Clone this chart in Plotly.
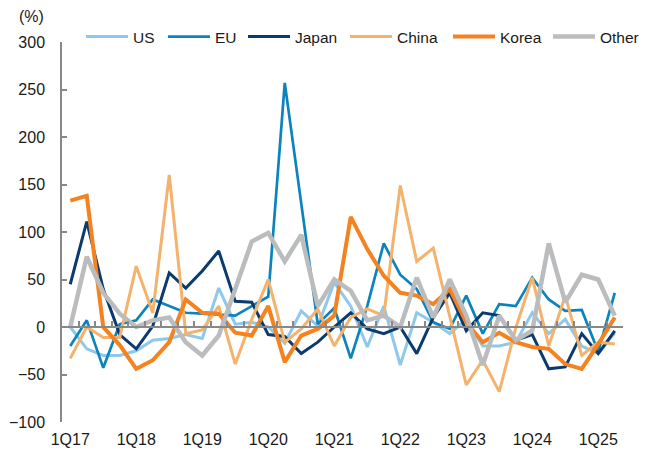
import plotly.graph_objects as go

# quarters 1Q17 .. 2Q25
quarters = [f"{q}Q{y}" for y in range(17, 26) for q in range(1, 5)][:34]
year_labels = ["1Q17", "1Q18", "1Q19", "1Q20", "1Q21", "1Q22", "1Q23", "1Q24", "1Q25"]

us = [0, -23, -30, -30, -25, -14, -12, -8, -12, 41, 3, 5, 0, -17, 17, 1, 47,
      22, -21, 22, -40, 15, 5, -7, 8, -20, -20, -16, 15, -7, 8, -20, -28, -6]
eu = [-20, 7, -43, 3, 7, 29, 22, 15, 14, 13, 12, 22, 32, 257, 130, 3, 20,
      -33, 22, 88, 55, 40, 5, -2, 33, -7, 24, 22, 52, 29, 17, 18, -26, 36]
japan = [45, 111, 40, -8, -23, 1, 57, 41, 59, 80, 27, 26, -8, -10, -28, -16, 0,
         15, -2, -7, 0, -28, 10, 36, -4, 15, 12, -14, -8, -44, -42, -7, -28, -4]
china = [-33, 0, -11, -11, 64, 15, 160, -7, -3, 22, -39, 8, 50, -16, -2, 19, -20,
         10, 19, 12, 149, 69, 83, 11, -61, -35, -68, -1, 52, -20, 33, -30, -16, -18]
korea = [133, 138, 0, -19, -44, -35, -16, 29, 15, 14, -6, -9, 22, -37, -9, -2, 12,
         116, 82, 54, 36, 33, 24, 40, 5, -16, -6, -16, -21, -23, -39, -44, -18, 10]
other = [0, 74, 36, 14, 0, 7, 10, -16, -30, -9, 40, 90, 99, 69, 97, 22, 50,
         38, 7, 12, 0, 52, 10, 50, 12, -40, 12, -14, -4, 88, 26, 55, 50, 12]

names = ["US", "EU", "Japan", "China", "Korea", "Other"]
series = [us, eu, japan, china, korea, other]
colors = ["#8FC8EA", "#0B84BE", "#0A3A6E", "#F4B26C", "#F58220", "#BBBCBE"]
widths = [3, 2.7, 3, 3, 4, 4.5]

# page body has an 8px margin, so work in figure px = screen px - 8
OFF = 8
text_start = [t - OFF for t in [133, 215, 295, 397, 500, 600]]  # legend text starts
ITEMW = 42

FONT = "Liberation Sans, Arial, sans-serif"
W, H = 653 - OFF, 462 - OFF
L, T = 62 - OFF, 42 - OFF
R, B = 653 - 623, 462 - 422
pw = W - L - R
ph = H - T - B

x = list(range(len(quarters)))
fig = go.Figure()
for i, (n, s) in enumerate(zip(names, series)):
    lg = "legend" if i == 0 else f"legend{i+1}"
    fig.add_trace(go.Scatter(x=x, y=s, name=n, mode="lines",
                             line=dict(color=colors[i], width=widths[i]),
                             legend=lg))
# dummy trace so the zero-line axis gets drawn
fig.add_trace(go.Scatter(x=[0], y=[0], xaxis="x2", mode="lines",
                         showlegend=False, hoverinfo="skip",
                         line=dict(color="rgba(0,0,0,0)")))

lay = dict(
    width=W, height=H,
    margin=dict(l=L, r=R, t=T, b=B, autoexpand=False),
    paper_bgcolor="white", plot_bgcolor="white",
    font=dict(family=FONT, size=16, color="#1a1a1a"),
    xaxis=dict(range=[-0.5, len(quarters) - 0.5], tickmode="array",
               tickvals=[quarters.index(q) for q in year_labels], ticktext=year_labels,
               showgrid=False, zeroline=False, showline=False, ticks="",
               ticklabelstandoff=6, automargin=False),
    xaxis2=dict(overlaying="x", anchor="free", position=0.25,
                range=[-0.5, len(quarters) - 0.5], tickmode="array",
                tickvals=[k - 0.5 for k in range(len(quarters) + 1)],
                showticklabels=False, showgrid=False, zeroline=False,
                showline=True, linecolor="#888888", linewidth=1.5,
                ticks="inside", ticklen=5, tickcolor="#888888", tickwidth=1.5),
    yaxis=dict(range=[-100, 300], tickvals=list(range(-100, 301, 50)),
               showgrid=False, zeroline=False, showline=True,
               linecolor="#888888", linewidth=1.5, ticks="inside", ticklen=5,
               tickcolor="#888888", tickwidth=1.5, ticklabelstandoff=12,
               automargin=False),
    showlegend=True,
    annotations=[dict(text="(%)", xref="paper", yref="paper",
                      x=(31 - OFF - L) / pw, y=(H - B - (16 - OFF)) / ph,
                      xanchor="center", yanchor="middle", showarrow=False,
                      font=dict(family=FONT, size=16, color="#1a1a1a"))],
)
for i in range(len(names)):
    key = "legend" if i == 0 else f"legend{i+1}"
    lay[key] = dict(x=(text_start[i] - (ITEMW + 10) - L) / pw, xanchor="left",
                    y=(H - B - (37 - OFF)) / ph, yanchor="middle",
                    orientation="h", bgcolor="rgba(0,0,0,0)", itemwidth=ITEMW,
                    font=dict(family=FONT, size=15.5, color="#1a1a1a"))
fig.update_layout(**lay)
fig.write_html("out.html")
